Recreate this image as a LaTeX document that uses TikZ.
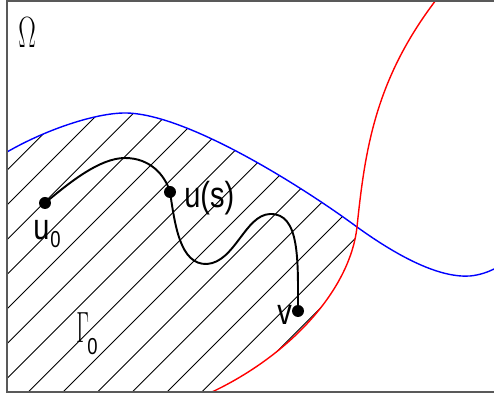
\documentclass[tikz,border=0pt]{standalone}
\usepackage{fontspec}
\setsansfont{Liberation Sans}
\usepackage{graphicx}
\newcommand{\stx}[1]{\scalebox{1}[1.25]{#1}}
\begin{document}
\begin{tikzpicture}[x=0.02cm,y=-0.02cm,
  frameline/.style={draw=black!65, line width=1.1pt},
  hatch/.style={black, line width=0.5pt},
  bluecurve/.style={blue, line width=0.8pt},
  redcurve/.style={red, line width=0.8pt},
  pathcurve/.style={black, line width=1.1pt},
  dot/.style={circle, fill=black, inner sep=0pt, minimum size=0.24cm},
  lbl/.style={anchor=base west, inner sep=0pt, font=\sffamily\fontsize{16.5}{17}\selectfont},
  sublbl/.style={anchor=base west, inner sep=0pt, font=\sffamily\fontsize{10.5}{11}\selectfont},
  greek/.style={anchor=base west, inner sep=0pt}]
\useasboundingbox (0,0) rectangle (494,398);
% hatching
\begin{scope}
\clip (7,152) .. controls (45,130) and (95,113) .. (125,113)
  .. controls (185,113) and (300,185) .. (357,227)
  .. controls (350,290) and (290,355) .. (212,392) -- (7,392) -- cycle;
\foreach \k in {-3,...,14} {
  \draw[hatch] ({212+34.7*\k-420},420) -- ({212+34.7*\k+20},-20);
}
\end{scope}
% blue curve
\draw[bluecurve] (7,152) .. controls (45,130) and (95,113) .. (125,113)
  .. controls (185,113) and (300,185) .. (357,227)
  .. controls (400,258) and (440,278) .. (470,276)
  .. controls (480,275) and (488,272) .. (494,269);
% red curve
\draw[redcurve] (212,392) .. controls (290,355) and (350,290) .. (357,227)
  .. controls (365,150) and (375,80) .. (436,0);
% frame
\draw[frameline] (494,1) -- (7,1) -- (7,392) -- (494,392);
% path
\node[dot] (u0) at (45,203) {};
\node[dot] (us) at (170,192) {};
\node[dot] (v) at (298,311) {};
\draw[pathcurve] (u0.center) .. controls (70,182) and (100,158) .. (125,158)
  .. controls (150,158) and (165,175) .. (us.center)
  .. controls (175,225) and (180,265) .. (207,264)
  .. controls (235,262) and (245,215) .. (270,214)
  .. controls (300,213) and (298,260) .. (v.center);
% labels
\node[lbl] (lu0) at (33,240) {\stx{u}};
\node[sublbl] (lu0s) at (50,248) {\stx{0}};
\node[lbl] (lus) at (184,208) {\stx{u(s)}};
\node[lbl] (lv) at (277,325) {\stx{v}};
\node[greek] (lom) at (18,48) {\scalebox{0.6}[1]{\fontsize{29}{29}\selectfont$\Omega$}};
\node[greek] (lga) at (76,343) {\scalebox{0.5}[1]{\fontsize{28}{28}\selectfont$\Gamma$}};
\node[sublbl] (lgas) at (87,355) {\stx{0}};
\end{tikzpicture}
\end{document}
